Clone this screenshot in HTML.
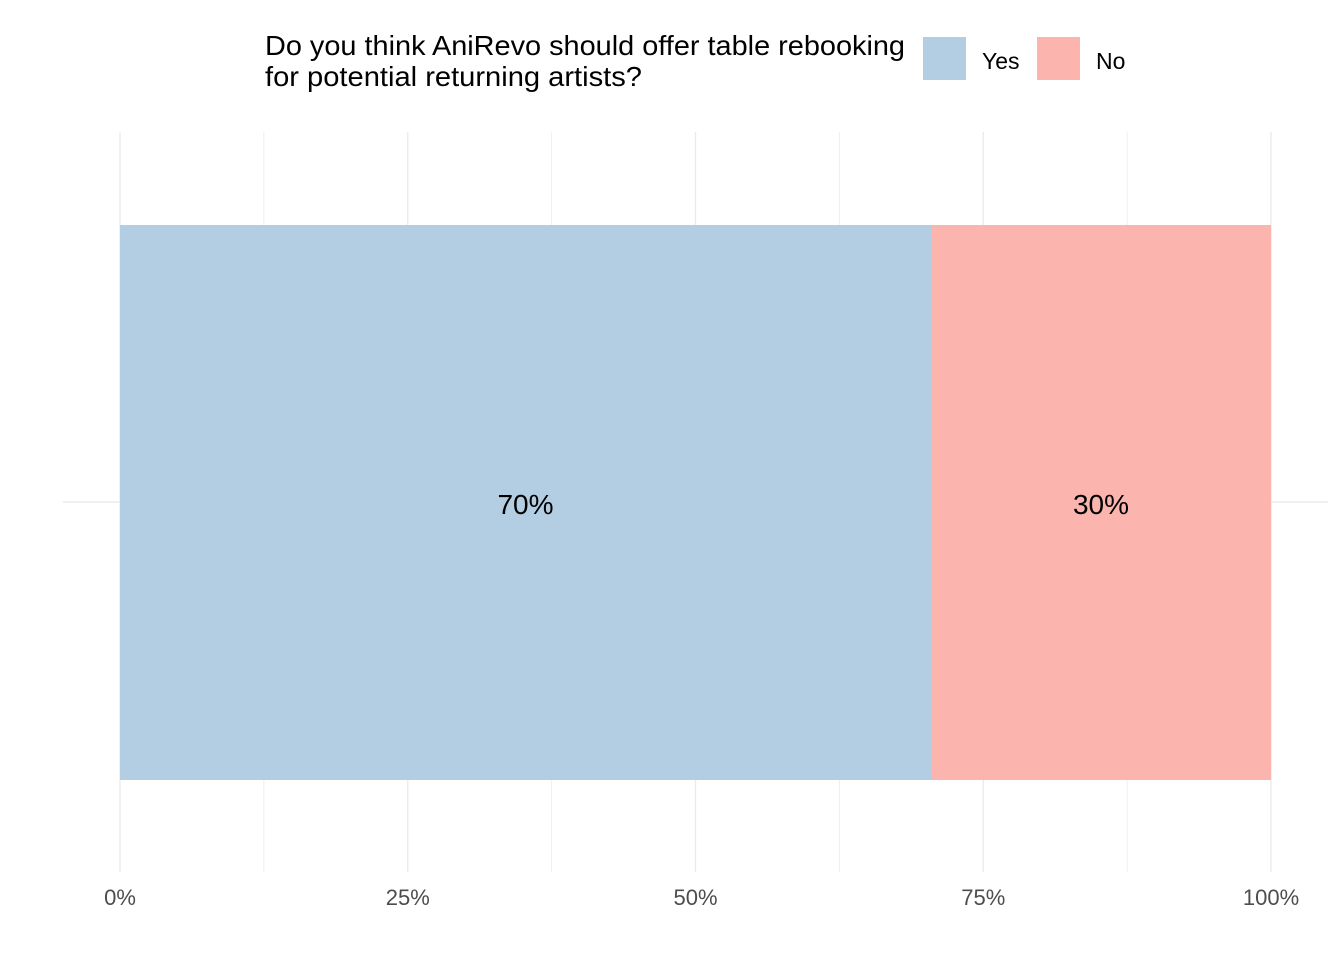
<!DOCTYPE html>
<html><head><meta charset="utf-8"><style>
html,body{margin:0;padding:0;background:#fff;}
svg{display:block;font-family:"Liberation Sans",Arial,sans-serif;}
</style></head><body>
<svg id="chart" width="1344" height="960">
<g>
<text x="265" y="55" font-size="28" fill="#000" textLength="640" lengthAdjust="spacingAndGlyphs">Do you think AniRevo should offer table rebooking</text>
<text x="265" y="86" font-size="28" fill="#000" textLength="377" lengthAdjust="spacingAndGlyphs">for potential returning artists?</text>
</g>
<g id="legend"></g>
<g id="grid"></g>
<g id="bars"></g>
<g id="ticks"></g>
</svg>
<script>
const categories = ["Yes", "No"];
const values = [70.46, 29.54];
const valueLabels = ["70%", "30%"];
const colors = ["#b3cde3", "#fbb4ae"];
const tickValues = [0, 25, 50, 75, 100];
const tickLabels = ["0%", "25%", "50%", "75%", "100%"];

const NS = "http://www.w3.org/2000/svg";
const x0 = 120, x1 = 1271;
const xs = v => x0 + (x1 - x0) * v / 100;
function mk(tag, attrs, parent) {
  const e = document.createElementNS(NS, tag);
  for (const k in attrs) e.setAttribute(k, attrs[k]);
  parent.appendChild(e); return e;
}
const grid = document.getElementById("grid");
for (let v = 0; v <= 100; v += 12.5) {
  const l = mk("line", {x1: xs(v), x2: xs(v), y1: 132, y2: 872, stroke: "#ebebeb", "stroke-width": v % 25 === 0 ? 1.4 : 0.8}, grid);
  
  
}
const hl = mk("line", {x1: 63, x2: 1328, y1: 502, y2: 502, stroke: "#ebebeb", "stroke-width": 1.4}, grid);



const bars = document.getElementById("bars");
let cum = 0;
values.forEach((v, i) => {
  const r = mk("rect", {x: xs(cum), y: 225, width: xs(cum + v) - xs(cum), height: 555, fill: colors[i]}, bars);
  
  
  const t = mk("text", {x: (xs(cum) + xs(cum + v)) / 2, y: 514, "font-size": 28, "text-anchor": "middle", fill: "#000"}, bars);
  t.textContent = valueLabels[i];
  
  
  cum += v;
});

const ticks = document.getElementById("ticks");
tickValues.forEach((v, i) => {
  const t = mk("text", {x: xs(v), y: 905, "font-size": 22, "text-anchor": "middle", fill: "#4d4d4d"}, ticks);
  t.textContent = tickLabels[i];
  
  
});

const legend = document.getElementById("legend");
const lx = [923, 1037];
categories.forEach((c, i) => {
  const r = mk("rect", {x: lx[i], y: 37, width: 43, height: 43, fill: colors[i]}, legend);
  
  
  const t = mk("text", {x: lx[i] + 59, y: 69, "font-size": 23, fill: "#000"}, legend);
  t.textContent = c;
  
  
});
</script>
</body></html>
